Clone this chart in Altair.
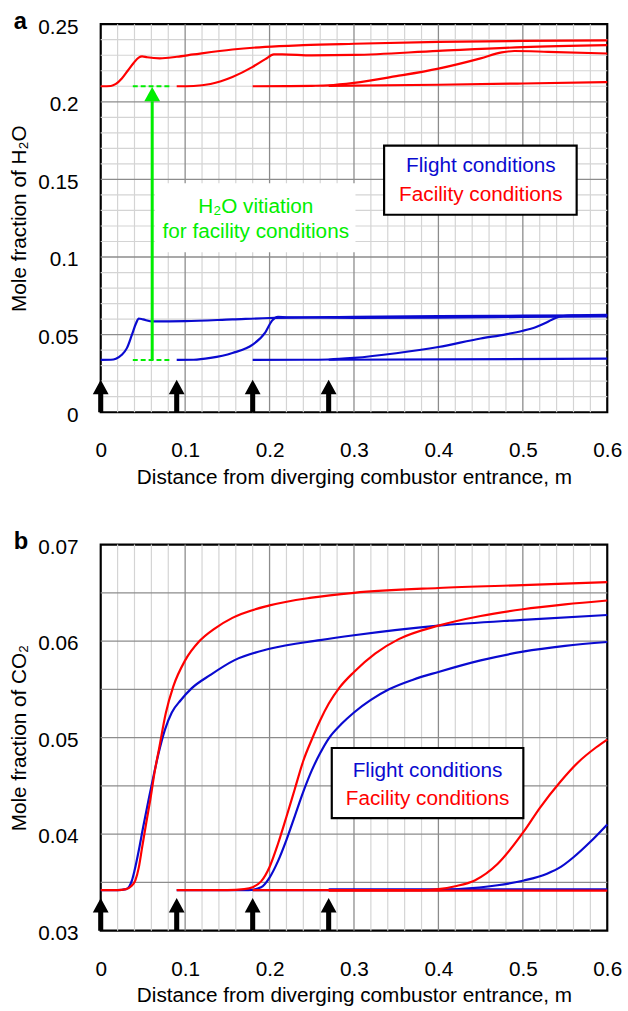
import altair as alt
import pandas as pd

# ---------------- data ----------------
# Panel a: mole fraction of H2O
H2O_FAC_1_X = [0, 0.012, 0.018, 0.025, 0.032, 0.039, 0.045, 0.049, 0.055, 0.07, 0.09, 0.11, 0.156, 0.195, 0.24, 0.3, 0.4, 0.5, 0.6]
H2O_FAC_1_Y = [0.2100, 0.2102, 0.2115, 0.2150, 0.2200, 0.2250, 0.2285, 0.2293, 0.2287, 0.2280, 0.2290, 0.2305, 0.2337, 0.2354, 0.2365, 0.2374, 0.2386, 0.2392, 0.2396]
H2O_FAC_2_X = [0.09, 0.11, 0.13, 0.156, 0.18, 0.195, 0.205, 0.215, 0.25, 0.3, 0.4, 0.5, 0.6]
H2O_FAC_2_Y = [0.2100, 0.2102, 0.2115, 0.2160, 0.2225, 0.2275, 0.2305, 0.2306, 0.2299, 0.2302, 0.2328, 0.2352, 0.2365]
H2O_FAC_3_X = [0.18, 0.22, 0.25, 0.27, 0.30, 0.35, 0.40, 0.45, 0.475, 0.49, 0.53, 0.6]
H2O_FAC_3_Y = [0.2100, 0.2101, 0.2103, 0.2106, 0.2122, 0.2165, 0.2214, 0.2280, 0.2318, 0.2327, 0.2322, 0.2311]
H2O_FAC_4_X = [0.27, 0.4, 0.5, 0.6]
H2O_FAC_4_Y = [0.2103, 0.2110, 0.2118, 0.2127]

H2O_FLT_1_X = [0, 0.012, 0.018, 0.025, 0.031, 0.037, 0.042, 0.045, 0.05, 0.062, 0.1, 0.156, 0.2, 0.3, 0.4, 0.5, 0.6]
H2O_FLT_1_Y = [0.0337, 0.0338, 0.0345, 0.0370, 0.0413, 0.0500, 0.0575, 0.0604, 0.0598, 0.0585, 0.0587, 0.0598, 0.0607, 0.0614, 0.0619, 0.0622, 0.0625]
H2O_FLT_2_X = [0.09, 0.11, 0.13, 0.156, 0.18, 0.195, 0.203, 0.21, 0.22, 0.3, 0.4, 0.5, 0.6]
H2O_FLT_2_Y = [0.0337, 0.0338, 0.0350, 0.0382, 0.0435, 0.0515, 0.0590, 0.0614, 0.0612, 0.0608, 0.0610, 0.0614, 0.0618]
H2O_FLT_3_X = [0.18, 0.24, 0.27, 0.30, 0.35, 0.40, 0.45, 0.48, 0.50, 0.515, 0.528, 0.538, 0.548, 0.56, 0.6]
H2O_FLT_3_Y = [0.0337, 0.0338, 0.0340, 0.0350, 0.0380, 0.0420, 0.0475, 0.0502, 0.0525, 0.0548, 0.0578, 0.0606, 0.0620, 0.0624, 0.0628]
H2O_FLT_4_X = [0.27, 0.6]
H2O_FLT_4_Y = [0.0338, 0.0345]

# Panel b: mole fraction of CO2
CO2_FAC_1_X = [0, 0.02, 0.03, 0.036, 0.041, 0.045, 0.049, 0.054, 0.059, 0.064, 0.069, 0.077, 0.086, 0.1, 0.117, 0.135, 0.156, 0.2, 0.25, 0.3, 0.4, 0.5, 0.6]
CO2_FAC_1_Y = [0.0342, 0.0342, 0.0343, 0.0346, 0.0352, 0.0365, 0.0386, 0.0412, 0.0437, 0.0465, 0.0488, 0.0525, 0.0553, 0.0580, 0.0600, 0.0613, 0.0624, 0.0637, 0.0645, 0.0650, 0.0655, 0.0658, 0.0661]
CO2_FAC_2_X = [0.09, 0.12, 0.15, 0.17, 0.18, 0.19, 0.20, 0.21, 0.22, 0.23, 0.24, 0.25, 0.26, 0.27, 0.283, 0.30, 0.325, 0.353, 0.4, 0.45, 0.5, 0.55, 0.6]
CO2_FAC_2_Y = [0.0342, 0.0342, 0.0342, 0.0343, 0.0345, 0.0351, 0.0366, 0.0390, 0.0418, 0.0447, 0.0476, 0.0498, 0.0518, 0.0535, 0.0552, 0.0568, 0.0587, 0.0602, 0.0616, 0.0626, 0.0633, 0.0638, 0.0642]
CO2_FAC_3_X = [0.18, 0.25, 0.3, 0.35, 0.38, 0.4, 0.42, 0.443, 0.47, 0.5014, 0.52, 0.5442, 0.565, 0.587, 0.6]
CO2_FAC_3_Y = [0.0342, 0.0342, 0.0342, 0.0342, 0.0342, 0.0343, 0.0346, 0.0352, 0.0369, 0.0403, 0.0427, 0.0454, 0.0474, 0.0490, 0.0498]
CO2_FAC_4_X = [0.27, 0.6]
CO2_FAC_4_Y = [0.03414, 0.03414]

CO2_FLT_1_X = [0, 0.02, 0.03, 0.034, 0.037, 0.04, 0.0453, 0.05, 0.057, 0.063, 0.0686, 0.076, 0.0842, 0.095, 0.1076, 0.13, 0.158, 0.2, 0.26, 0.3, 0.4, 0.5, 0.6]
CO2_FLT_1_Y = [0.0342, 0.0342, 0.0343, 0.0346, 0.0352, 0.0362, 0.0384, 0.0406, 0.0437, 0.0462, 0.0484, 0.0508, 0.0526, 0.0539, 0.0551, 0.0565, 0.0580, 0.0592, 0.0601, 0.0606, 0.0616, 0.0622, 0.0627]
CO2_FLT_2_X = [0.09, 0.12, 0.15, 0.175, 0.19, 0.20, 0.21, 0.22, 0.23, 0.24, 0.25, 0.26, 0.27, 0.285, 0.30, 0.32, 0.3415, 0.37, 0.4, 0.45, 0.5, 0.55, 0.6]
CO2_FLT_2_Y = [0.0342, 0.0342, 0.0342, 0.0342, 0.0345, 0.0355, 0.0372, 0.0394, 0.0419, 0.0444, 0.0466, 0.0484, 0.0499, 0.0514, 0.0526, 0.0539, 0.0550, 0.0560, 0.0568, 0.0580, 0.0589, 0.0595, 0.0599]
CO2_FLT_3_X = [0.18, 0.3, 0.4, 0.44, 0.47, 0.5014, 0.5287, 0.545, 0.56, 0.58, 0.6]
CO2_FLT_3_Y = [0.0342, 0.0342, 0.0342, 0.0344, 0.0347, 0.0352, 0.0359, 0.0366, 0.0376, 0.0392, 0.0410]
CO2_FLT_4_X = [0.27, 0.6]
CO2_FLT_4_Y = [0.03428, 0.03428]

# injector positions (black arrows)
INJECTOR_X = [0, 0.09, 0.18, 0.27]

# vitiation annotation (panel a)
VIT_X = 0.061
VIT_DASH_X = [0.038, 0.083]
VIT_LEVELS = [0.21, 0.0337]
VIT_SHAFT_Y = [0.0337, 0.2003]
VIT_TIP_Y = 0.2095

# axis ticks / grid
X_TICKS = [0, 0.1, 0.2, 0.3, 0.4, 0.5, 0.6]
X_MINOR = [0.02, 0.04, 0.06, 0.08, 0.12, 0.14, 0.16, 0.18, 0.22, 0.24, 0.26, 0.28,
           0.32, 0.34, 0.36, 0.38, 0.42, 0.44, 0.46, 0.48, 0.52, 0.54, 0.56, 0.58]
X_MAJOR = [0.1, 0.2, 0.3, 0.4, 0.5]
A_Y_TICKS = [0, 0.05, 0.1, 0.15, 0.2, 0.25]
A_Y_MINOR = [0.01, 0.02, 0.03, 0.04, 0.06, 0.07, 0.08, 0.09, 0.11, 0.12, 0.13, 0.14,
             0.16, 0.17, 0.18, 0.19, 0.21, 0.22, 0.23, 0.24]
A_Y_MAJOR = [0.05, 0.1, 0.15, 0.2]
B_Y_TICKS = [0.03, 0.04, 0.05, 0.06, 0.07]
B_Y_GRID = [0.035, 0.04, 0.045, 0.05, 0.055, 0.06, 0.065]

# ---------------- styling ----------------
FONT = "Liberation Sans"
FS = 21
RED = "#ff0000"
BLUE = "#0a0ad0"
GREEN = "#00ee00"
MINOR_C = "#d4d4d4"
MAJOR_C = "#8c8c8c"
W = 513
HA = 393
HB = 391
ARROW_PATH = "M-0.16,0L0.16,0L0.16,-1.14L0.5,-1.14L0,-2.06L-0.5,-1.14L-0.16,-1.14Z"
TIP_PATH = "M0,0L0.5,0.9L-0.5,0.9Z"
X_TITLE = "Distance from diverging combustor entrance, m"


def curves_df(curves):
    rows = []
    for cid, xs, ys in curves:
        for i, (x, y) in enumerate(zip(xs, ys)):
            rows.append({"curve": cid, "x": x, "y": y, "i": i})
    return pd.DataFrame(rows)


def one(k=0):
    return pd.DataFrame({"k": [k]})


AXIS_STYLE = dict(grid=False, ticks=False, domain=False, labelFlush=False, labelFont=FONT, titleFont=FONT,
                  labelFontSize=FS, titleFontSize=FS, labelColor="black", titleColor="black",
                  titleFontWeight="normal")


def panel(ydomain, yticks, yfmt, ytitle, flight, facility, ygrid_minor, ygrid_major,
          height, letter, legend_box, legend_text_xy, pre=None, post=None):
    xs_ = alt.Scale(domain=[0, 0.6], nice=False, zero=False)
    ys_ = alt.Scale(domain=ydomain, nice=False, zero=False)
    ax = alt.Axis(values=X_TICKS, format=".1~f", title=X_TITLE, labelPadding=28, titlePadding=6, **AXIS_STYLE)
    ay = alt.Axis(values=yticks, format=yfmt, title=ytitle, labelPadding=23, titlePadding=8, labelOffset=3,
                  **AXIS_STYLE)

    def X(f):
        return alt.X(f, scale=xs_, axis=ax, title=X_TITLE)

    def Y(f):
        return alt.Y(f, scale=ys_, axis=ay, title=ytitle)

    layers = []
    # grid
    layers.append(alt.Chart(pd.DataFrame({"x": X_MINOR})).mark_rule(color=MINOR_C, strokeWidth=1.2)
                  .encode(x=X("x:Q")))
    if ygrid_minor:
        layers.append(alt.Chart(pd.DataFrame({"y": ygrid_minor})).mark_rule(color=MINOR_C, strokeWidth=1.2)
                      .encode(y=Y("y:Q")))
    layers.append(alt.Chart(pd.DataFrame({"x": X_MAJOR})).mark_rule(color=MAJOR_C, strokeWidth=1.3)
                  .encode(x=X("x:Q")))
    layers.append(alt.Chart(pd.DataFrame({"y": ygrid_major})).mark_rule(color=MAJOR_C, strokeWidth=1.3)
                  .encode(y=Y("y:Q")))
    if pre:
        layers.append(pre(X, Y))
    # curves: flight (blue) below facility (red)
    layers.append(alt.Chart(curves_df(flight)).mark_line(color=BLUE, strokeWidth=2.2, interpolate="monotone")
                  .encode(x=X("x:Q"), y=Y("y:Q"), detail="curve:N", order="i:Q"))
    layers.append(alt.Chart(curves_df(facility)).mark_line(color=RED, strokeWidth=2.2, interpolate="monotone")
                  .encode(x=X("x:Q"), y=Y("y:Q"), detail="curve:N", order="i:Q"))
    if post:
        layers.append(post(X, Y))
    # legend box
    bx0, by0, bx1, by1 = legend_box
    layers.append(alt.Chart(one()).mark_rect(fill="white", stroke="black", strokeWidth=2.2)
                  .encode(x=alt.value(bx0), x2=alt.value(bx1), y=alt.value(by0), y2=alt.value(by1)))
    tx, ty1, ty2 = legend_text_xy
    layers.append(alt.Chart(one()).mark_text(text="Flight conditions", color=BLUE, font=FONT,
                                             fontSize=FS, baseline="middle", align="center")
                  .encode(x=alt.value(tx), y=alt.value(ty1)))
    layers.append(alt.Chart(one()).mark_text(text="Facility conditions", color=RED, font=FONT,
                                             fontSize=FS, baseline="middle", align="center")
                  .encode(x=alt.value(tx), y=alt.value(ty2)))
    # injector arrows
    layers.append(alt.Chart(pd.DataFrame({"x": INJECTOR_X, "y": [ydomain[0]] * len(INJECTOR_X)}))
                  .mark_point(shape=ARROW_PATH, size=1024, filled=True, color="black", opacity=1, strokeWidth=0)
                  .encode(x=X("x:Q"), y=Y("y:Q")))
    # panel letter
    layers.append(alt.Chart(one()).mark_text(text=letter, font=FONT, fontSize=24, fontWeight="bold",
                                             align="left", baseline="alphabetic", color="black")
                  .encode(x=alt.value(-88), y=alt.value(5)))
    return alt.layer(*layers).properties(width=W, height=height)


def pre_vit_box(X, Y):
    return alt.Chart(one()).mark_rect(fill="white").encode(
        x=alt.value(55), x2=alt.value(258), y=alt.value(161), y2=alt.value(231))


def post_vit(X, Y):
    dash = pd.DataFrame({"x": VIT_DASH_X * 2, "y": [VIT_LEVELS[0]] * 2 + [VIT_LEVELS[1]] * 2,
                         "g": ["a", "a", "b", "b"]})
    dl = alt.Chart(dash).mark_line(color=GREEN, strokeWidth=2, strokeDash=[5, 3]).encode(
        x=X("x:Q"), y=Y("y:Q"), detail="g:N")
    shaft = alt.Chart(pd.DataFrame({"x": [VIT_X], "y": [VIT_SHAFT_Y[0]], "y2": [VIT_SHAFT_Y[1]]})).mark_rule(
        color=GREEN, strokeWidth=3).encode(x=X("x:Q"), y=Y("y:Q"), y2="y2:Q")
    tip = alt.Chart(pd.DataFrame({"x": [VIT_X], "y": [VIT_TIP_Y]})).mark_point(
        shape=TIP_PATH, size=1024, filled=True, color=GREEN, opacity=1, strokeWidth=0).encode(
        x=X("x:Q"), y=Y("y:Q"))
    t1 = alt.Chart(one()).mark_text(text="H₂O vitiation", color=GREEN, font=FONT, fontSize=FS,
                                    align="center", baseline="middle").encode(x=alt.value(157), y=alt.value(185))
    t2 = alt.Chart(one()).mark_text(text="for facility conditions", color=GREEN, font=FONT,
                                    fontSize=FS, align="center", baseline="middle").encode(
        x=alt.value(157), y=alt.value(211))
    return alt.layer(dl, shaft, tip, t1, t2)


chart_a = panel([0, 0.25], A_Y_TICKS, ".2~f", "Mole fraction of H₂O",
                [(1, H2O_FLT_1_X, H2O_FLT_1_Y), (2, H2O_FLT_2_X, H2O_FLT_2_Y),
                 (3, H2O_FLT_3_X, H2O_FLT_3_Y), (4, H2O_FLT_4_X, H2O_FLT_4_Y)],
                [(1, H2O_FAC_1_X, H2O_FAC_1_Y), (2, H2O_FAC_2_X, H2O_FAC_2_Y),
                 (3, H2O_FAC_3_X, H2O_FAC_3_Y), (4, H2O_FAC_4_X, H2O_FAC_4_Y)],
                A_Y_MINOR, A_Y_MAJOR, HA, "a", (287, 123, 482, 193), (385, 144, 173),
                pre=pre_vit_box, post=post_vit)

chart_b = panel([0.03, 0.07], B_Y_TICKS, ".2f", "Mole fraction of CO₂",
                [(1, CO2_FLT_1_X, CO2_FLT_1_Y), (2, CO2_FLT_2_X, CO2_FLT_2_Y),
                 (3, CO2_FLT_3_X, CO2_FLT_3_Y), (4, CO2_FLT_4_X, CO2_FLT_4_Y)],
                [(1, CO2_FAC_1_X, CO2_FAC_1_Y), (2, CO2_FAC_2_X, CO2_FAC_2_Y),
                 (3, CO2_FAC_3_X, CO2_FAC_3_Y), (4, CO2_FAC_4_X, CO2_FAC_4_Y)],
                [], B_Y_GRID, HB, "b", (234, 206, 428, 277), (331, 229, 258))

chart = alt.vconcat(chart_a, chart_b, spacing=40).properties(
    padding={"left": 8, "top": 2, "right": 5, "bottom": 5}, background="white"
).configure_view(stroke="black", strokeWidth=2.2)

chart.save("out.html", embed_options={"renderer": "svg", "actions": False})
